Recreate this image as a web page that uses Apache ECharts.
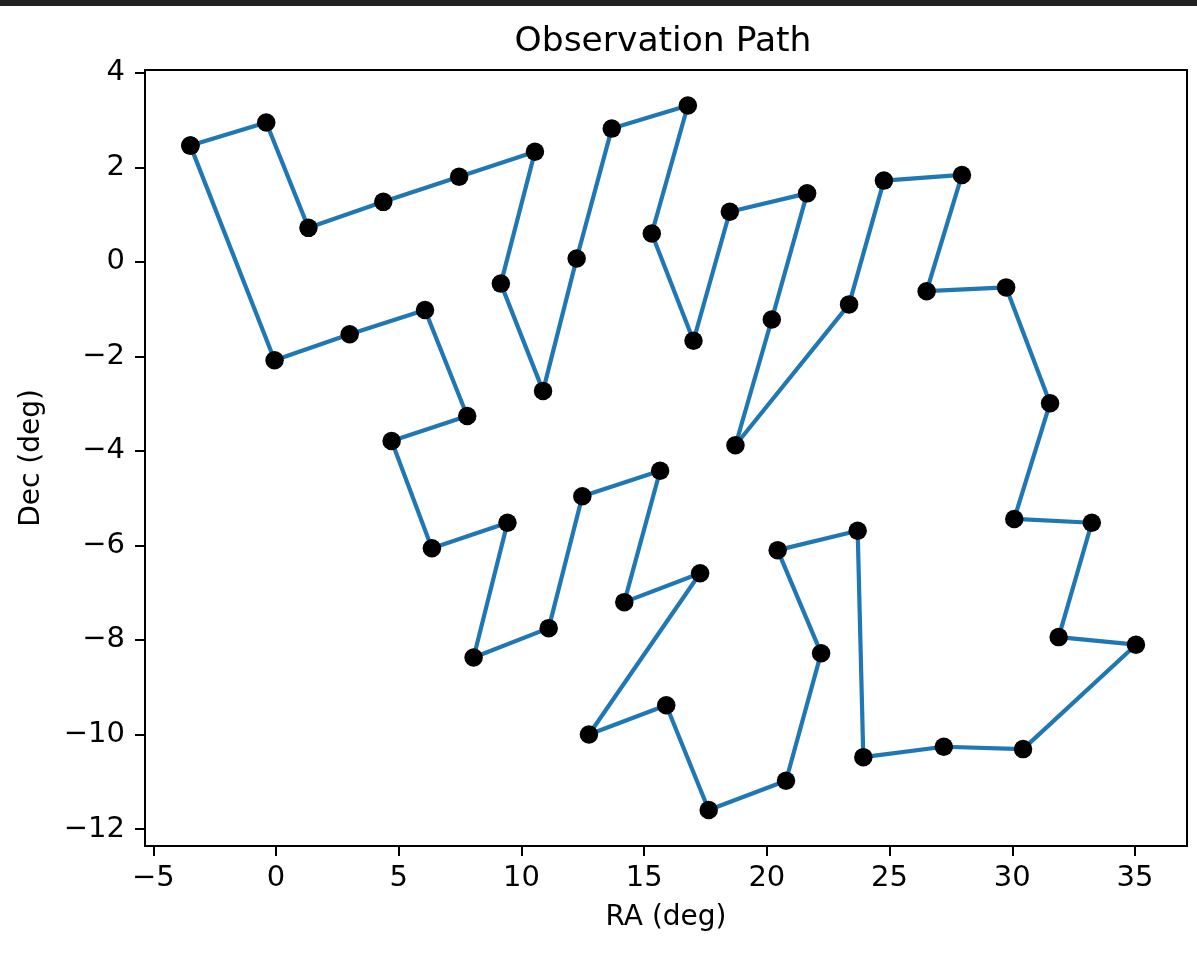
<!DOCTYPE html>
<html>
<head>
<meta charset="utf-8">
<script src="https://cdn.jsdelivr.net/npm/echarts@6/dist/echarts.min.js"></script>
<style>
  html, body { margin: 0; padding: 0; background: #ffffff; }
  #chart { width: 1197px; height: 954px; }
</style>
</head>
<body>
<div id="chart"></div>
<script>
// Observation path: RA / Dec in degrees (closed loop, visiting order)
const ra = [-3.49, -0.40, 1.32, 4.37, 7.46, 10.55, 9.16, 10.88, 12.25, 13.68,
            16.78, 15.31, 17.01, 18.49, 21.64, 20.20, 18.72, 23.35, 24.77, 27.95,
            26.51, 29.75, 31.54, 30.08, 33.24, 31.89, 35.04, 30.44, 27.21, 23.93,
            23.70, 20.44, 22.21, 20.78, 17.63, 15.90, 12.75, 17.28, 14.19, 15.65,
            12.48, 11.11, 8.05, 9.43, 6.35, 4.71, 7.79, 6.07, 3.00, -0.06];
const dec = [2.46, 2.95, 0.72, 1.27, 1.80, 2.33, -0.46, -2.73, 0.07, 2.82,
             3.31, 0.60, -1.67, 1.06, 1.45, -1.22, -3.88, -0.90, 1.72, 1.84,
             -0.62, -0.54, -2.99, -5.44, -5.52, -7.94, -8.10, -10.31, -10.26, -10.48,
             -5.69, -6.10, -8.28, -10.98, -11.60, -9.38, -10.00, -6.59, -7.20, -4.42,
             -4.96, -7.75, -8.37, -5.52, -6.06, -3.79, -3.26, -1.02, -1.53, -2.08];
const xTicks = [-5, 0, 5, 10, 15, 20, 25, 30, 35];
const yTicks = [-12, -10, -8, -6, -4, -2, 0, 2, 4];

const pathData = ra.map((x, i) => [x, dec[i]]);
pathData.push([ra[0], dec[0]]); // close the loop

const FONT = "'DejaVu Sans', 'Liberation Sans', sans-serif";
const fmt = v => String(v).replace('-', '\u2212');

const chart = echarts.init(document.getElementById('chart'), null, { renderer: 'canvas' });
chart.setOption({
  animation: false,
  backgroundColor: '#ffffff',
  graphic: [{
    type: 'rect', left: 0, top: 0, z: 100,
    shape: { x: 0, y: 0, width: 1197, height: 6 },
    style: { fill: '#212121' }
  }],
  title: {
    text: 'Observation Path',
    left: 663, top: 25, textAlign: 'center', padding: 0,
    textStyle: { fontFamily: FONT, fontSize: 34.5, fontWeight: 'normal', color: '#000' }
  },
  grid: {
    left: 145, right: 10, top: 70, bottom: 108,
    show: true, borderColor: '#000', borderWidth: 2, backgroundColor: 'transparent'
  },
  xAxis: {
    type: 'value', min: -5.34, max: 37.12,
    name: 'RA (deg)', nameLocation: 'middle', nameGap: 58,
    nameTextStyle: { fontFamily: FONT, fontSize: 28, color: '#000' },
    axisLine: { show: true, onZero: false, lineStyle: { color: '#000', width: 2 } },
    axisTick: { show: true, length: 10, customValues: xTicks, lineStyle: { color: '#000', width: 2 } },
    axisLabel: { customValues: xTicks, formatter: fmt, margin: 18, fontFamily: FONT, fontSize: 29, color: '#000' },
    splitLine: { show: false }
  },
  yAxis: {
    type: 'value', min: -12.36, max: 4.06,
    name: 'Dec (deg)', nameLocation: 'middle', nameGap: 99, nameRotate: 90,
    nameTextStyle: { fontFamily: FONT, fontSize: 28, color: '#000' },
    axisLine: { show: true, onZero: false, lineStyle: { color: '#000', width: 2 } },
    axisTick: { show: true, length: 10, customValues: yTicks, lineStyle: { color: '#000', width: 2 } },
    axisLabel: { customValues: yTicks, formatter: fmt, margin: 20, fontFamily: FONT, fontSize: 29, color: '#000' },
    splitLine: { show: false }
  },
  series: [{
    type: 'line',
    data: pathData,
    lineStyle: { color: '#1f77b4', width: 4.2 },
    symbol: 'circle',
    symbolSize: 18.5,
    showSymbol: true,
    showAllSymbol: true,
    itemStyle: { color: '#000', borderWidth: 0 },
    emphasis: { disabled: true },
    z: 3
  }]
});
</script>
</body>
</html>
